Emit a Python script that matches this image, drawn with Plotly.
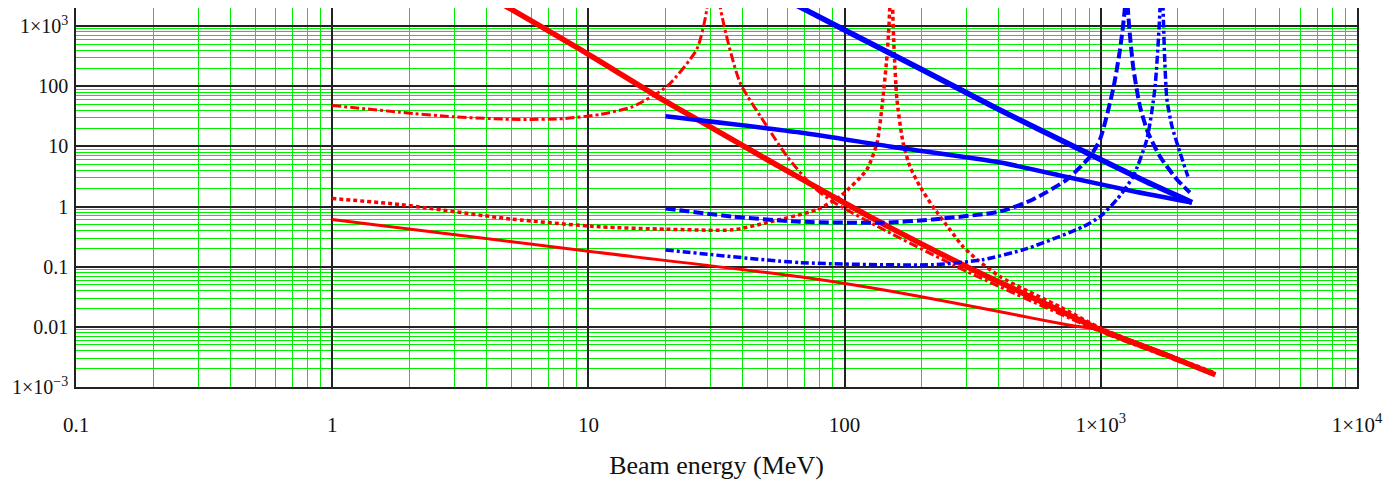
import plotly.graph_objects as go

# ---------------- data ----------------
# Red, thick solid (steep)
r1_x = [4, 10, 20, 30, 50, 90, 150, 300, 600, 1000, 1800, 2800]
r1_y = [3300, 340, 56, 21, 6.0, 1.47, 0.45, 0.1, 0.025, 0.0089, 0.0034, 0.0016]

# Red, thin solid (shallow)
r2_x = [1, 10, 67, 164, 405, 738, 1000, 1800, 2800]
r2_y = [0.61, 0.18, 0.068, 0.037, 0.0178, 0.0108, 0.0088, 0.0036, 0.0016]

# Red, dash-dot (upper, resonance near 30 MeV)
r3_x = [1, 1.84, 3, 5.4, 8, 11.1, 14.9, 20.3, 26.5, 29, 30.5, 32.7, 39, 49.8, 59.6,
        75.3, 90, 141, 300, 1000, 2800]
r3_y = [48, 37, 31, 28, 29, 34, 46, 100, 414, 1920, 1e5, 2070, 117, 21.5, 6.8,
        2.15, 1.2, 0.42, 0.083, 0.0083, 0.0016]

# Red, dotted (lower, resonance near 150 MeV)
r4_x = [1, 1.84, 5, 11.1, 20, 36.6, 49.8, 78, 96, 122, 134, 141, 147, 150, 152,
        154, 156, 160, 169, 180, 197, 221, 258, 290, 329, 405, 700, 1000, 2800]
r4_y = [1.36, 1.08, 0.62, 0.46, 0.42, 0.41, 0.54, 0.89, 1.47, 4.1, 11.7, 61, 400, 1900, 1e5,
        2000, 414, 61, 11.7, 4.6, 2.15, 1.0, 0.41, 0.215, 0.131, 0.068, 0.021, 0.0095, 0.0017]

# Blue, thick solid (steep)
b1_x = [20, 50, 100, 200, 400, 800, 1500, 2270]
b1_y = [29700, 3960, 860, 190, 41, 9.6, 2.6, 1.17]

# Blue, thick solid (shallow)
b2_x = [20, 67, 150, 405, 738, 1337, 2270]
b2_y = [31.6, 17, 10, 5.4, 3.1, 1.8, 1.17]

# Blue, dashed (upper, resonance near 1.26 GeV)
b3_x = [20, 36.6, 67, 141, 221, 405, 543, 738, 908, 993, 1117, 1189, 1242, 1258,
        1276, 1337, 1422, 1528, 1702, 1982, 2228]
b3_y = [0.93, 0.68, 0.56, 0.54, 0.61, 0.83, 1.31, 2.82, 6.8, 13.1, 89, 414, 2070, 1e5,
        1900, 215, 46, 17, 6.8, 2.82, 1.71]

# Blue, dash-dot (lower, resonance near 1.72 GeV)
b4_x = [20, 67, 221, 347, 515, 851, 993, 1156, 1337, 1513, 1625, 1702, 1725,
        1750, 1778, 1811, 1896, 2038, 2188]
b4_y = [0.19, 0.117, 0.108, 0.131, 0.2, 0.46, 0.68, 1.31, 3.16, 13.1, 89, 1900, 1e5,
        2000, 251, 61, 21.5, 7.9, 3.16]

x_tickvals = [0.1, 1, 10, 100, 1000, 10000]
x_ticktext = ["0.1", "1", "10", "100", "1×10<sup>3</sup>", "1×10<sup>4</sup>"]
y_tickvals = [0.001, 0.01, 0.1, 1, 10, 100, 1000]
y_ticktext = ["1×10<sup>−3</sup>", "0.01", "0.1", "1", "10", "100", "1×10<sup>3</sup>"]
x_title = "Beam energy (MeV)"

# ---------------- figure ----------------
RED = "#ff0000"
BLUE = "#0000ff"
GREEN = "#00ee00"
DARK = "#222222"
SERIF = "Liberation Serif, Times New Roman, serif"

minor_x = [m * 10 ** e for e in range(-1, 4) for m in range(2, 10)]
minor_y = [m * 10 ** e for e in range(-3, 4) for m in range(2, 10)]

fig = go.Figure()

def add(x, y, color, width, dash="solid", shape="spline"):
    fig.add_trace(go.Scatter(
        x=x, y=y, mode="lines",
        line=dict(color=color, width=width, dash=dash, shape=shape, smoothing=0.6),
        hoverinfo="skip", showlegend=False))

add(r2_x, r2_y, RED, 3)
add(r3_x, r3_y, RED, 3, "9px,3px,3px,3px")
add(r4_x, r4_y, RED, 3.5, "4px,3px")
add(r1_x, r1_y, RED, 5.5)
add(b2_x, b2_y, BLUE, 4.5)
add(b1_x, b1_y, BLUE, 5.5)
add(b3_x, b3_y, BLUE, 4, "10px,4px")
add(b4_x, b4_y, BLUE, 3.5, "8px,3px,3px,3px")

fig.update_layout(
    width=1395, height=484,
    margin=dict(l=76, r=38, t=8, b=97, autoexpand=False),
    paper_bgcolor="white", plot_bgcolor="white",
    xaxis=dict(
        type="log", range=[-1, 4], automargin=False,
        tickmode="array", tickvals=x_tickvals, ticktext=x_ticktext,
        ticks="", ticklabelstandoff=18,
        tickfont=dict(family=SERIF, size=21, color="#111111"),
        showgrid=True, gridcolor=DARK, gridwidth=1.5,
        minor=dict(tickmode="array", tickvals=minor_x, showgrid=True,
                   gridcolor=GREEN, gridwidth=1, ticks=""),
        showline=True, linecolor=DARK, linewidth=1.5, mirror=False,
        zeroline=False,
        title=dict(text=x_title, standoff=20,
                   font=dict(family=SERIF, size=26, color="#111111")),
    ),
    yaxis=dict(
        type="log", range=[-3, 3.301], automargin=False,
        tickmode="array", tickvals=y_tickvals, ticktext=y_ticktext,
        ticks="", ticklabelstandoff=2,
        tickfont=dict(family=SERIF, size=20, color="#111111"),
        showgrid=True, gridcolor=DARK, gridwidth=1.5,
        minor=dict(tickmode="array", tickvals=minor_y, showgrid=True,
                   gridcolor=GREEN, gridwidth=1, ticks=""),
        showline=True, linecolor=DARK, linewidth=1.5, mirror=True,
        zeroline=False,
    ),
)

fig.write_html(
    "out.html",
    config={"displayModeBar": False},
    post_script="document.body.style.margin='0px';document.body.style.overflow='hidden';",
)
